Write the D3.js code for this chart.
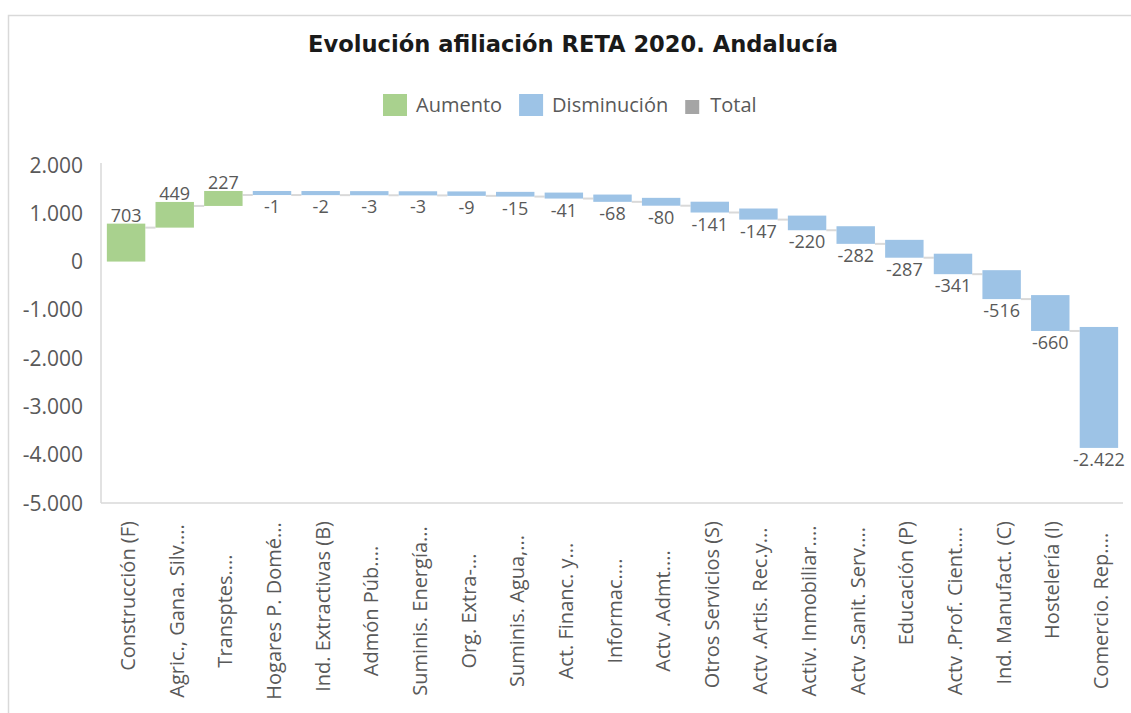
<!DOCTYPE html>
<html>
<head>
<meta charset="utf-8">
<script src="https://cdn.jsdelivr.net/npm/d3@7"></script>
<style>
  body { margin: 0; background: #fff; }
  svg text { font-family: "Open Sans", sans-serif; fill: #595959; }
</style>
</head>
<body>
<div id="chart"></div>
<script>
const categories = [
  'Construcción (F)', 'Agric., Gana. Silv....', 'Transptes....', 'Hogares P. Domé...',
  'Ind. Extractivas (B)', 'Admón Púb....', 'Suminis.  Energía...', 'Org. Extra-...',
  'Suminis. Agua,...', 'Act. Financ. y...', 'Informac....', 'Actv .Admt....',
  'Otros Servicios (S)', 'Actv .Artis. Rec.y...', 'Activ. Inmobiliar....', 'Actv .Sanit. Serv....',
  'Educación (P)', 'Actv .Prof. Cient....', 'Ind. Manufact.  (C)', 'Hostelería (I)',
  'Comercio. Rep....'
];
const changes = [703, 449, 227, -1, -2, -3, -3, -9, -15, -41, -68, -80,
  -141, -147, -220, -282, -287, -341, -516, -660, -2422];
const yTicks = [2000, 1000, 0, -1000, -2000, -3000, -4000, -5000];
const legendItems = ['Aumento', 'Disminución', 'Total'];

const W = 1131, H = 713;
const colors = { up: '#a9d18e', down: '#9dc3e6', total: '#a5a5a5', grid: '#d9d9d9' };
const fmt = d3.formatLocale({ decimal: ',', thousands: '.', grouping: [3], currency: ['', '€'], minus: '-' }).format(',d');

function buildSteps(values) {
  let run = 0;
  return values.map((v, i) => {
    let start = run;
    run += v;
    return { cat: categories[i], value: v, start, end: run };
  });
}

function initChart(sel) {
  let svg = d3.select(sel).append('svg')
    .attr('width', W).attr('height', H);
  // outer frame
  svg.append('rect')
    .attr('x', 8.5).attr('y', 15.5)
    .attr('width', W + 20).attr('height', H + 20)
    .attr('fill', 'none').attr('stroke', colors.grid).attr('stroke-width', 1.5);
  return svg;
}

function addTitle(svg) {
  svg.append('text')
    .attr('x', 308).attr('y', 52)
    .attr('textLength', 530).attr('lengthAdjust', 'spacingAndGlyphs')
    .style('font-family', '"DejaVu Sans", sans-serif')
    .style('font-weight', 700).style('font-size', '23px').style('fill', '#1a1a1a')
    .text('Evolución afiliación RETA 2020. Andalucía');
}

function addLegend(svg) {
  let g = svg.append('g').attr('class', 'legend');
  let x = 383;
  legendItems.forEach((name, i) => {
    let isTotal = name === 'Total';
    let sw = isTotal ? 14 : 24, sh = isTotal ? 14 : 22;
    g.append('rect')
      .attr('x', x).attr('y', isTotal ? 100 : 94)
      .attr('width', sw).attr('height', sh)
      .attr('fill', [colors.up, colors.down, colors.total][i]);
    x += sw + (isTotal ? 11 : 9);
    let t = g.append('text')
      .attr('x', x).attr('y', 112)
      .style('font-size', '20px')
      .text(name);
    x += t.node().getComputedTextLength() + 17;
  });
}

function addAxes(chart) {
  let { svg, x, y } = chart;
  let [x0, x1] = x.range();
  svg.append('line')
    .attr('x1', x0 - 1).attr('x2', x0 - 1)
    .attr('y1', y(2000) - 2).attr('y2', y(-5000))
    .attr('stroke', colors.grid).attr('stroke-width', 1.5);
  svg.append('line')
    .attr('x1', x0 - 1).attr('x2', x1)
    .attr('y1', y(-5000)).attr('y2', y(-5000))
    .attr('stroke', colors.grid).attr('stroke-width', 1.5);

  svg.append('g').selectAll('text')
    .data(yTicks).enter().append('text')
    .attr('x', 83).attr('y', d => y(d))
    .attr('dy', '0.36em')
    .attr('text-anchor', 'end')
    .style('font-size', '21px')
    .text(d => fmt(d));

  // category labels, rotated; Excel centres the cut-off ones
  svg.append('g').selectAll('text')
    .data(categories).enter().append('text')
    .attr('transform', d => {
      let cx = x(d) + x.bandwidth() / 2 + 2;
      let truncated = d.endsWith('...');
      return 'translate(' + cx + ',' + (truncated ? 611 : 521) + ') rotate(-90)';
    })
    .attr('text-anchor', d => d.endsWith('...') ? 'middle' : 'end')
    .attr('dy', '0.35em')
    .style('font-size', '20px')
    .text(d => d);
}

function addBars(chart) {
  let { svg, x, y, steps } = chart;
  let ext = 4;

  // connectors
  svg.append('g').selectAll('line')
    .data(steps.slice(0, -1)).enter().append('line')
    .attr('x1', d => x(d.cat) + x.bandwidth())
    .attr('x2', (d, i) => x(steps[i + 1].cat))
    .attr('y1', d => y(d.end)).attr('y2', d => y(d.end))
    .attr('stroke', colors.grid).attr('stroke-width', 2);

  svg.append('g').selectAll('rect')
    .data(steps).enter().append('rect')
    .attr('x', d => x(d.cat))
    .attr('width', x.bandwidth())
    .attr('y', d => y(Math.max(d.start, d.end)) - ext)
    .attr('height', d => Math.abs(y(d.start) - y(d.end)) + ext)
    .attr('fill', d => d.value >= 0 ? colors.up : colors.down);

  svg.append('g').selectAll('text')
    .data(steps).enter().append('text')
    .attr('x', d => x(d.cat) + x.bandwidth() / 2)
    .attr('y', d => d.value >= 0
      ? y(d.end) - ext - 2
      : y(d.end) + 18)
    .attr('text-anchor', 'middle')
    .style('font-size', '18px')
    .text(d => fmt(d.value));
}

let steps = buildSteps(changes);
let svg = initChart('#chart');
let x = d3.scaleBand().domain(categories).range([102, 1123]).paddingInner(0.21).paddingOuter(0.1);
let y = d3.scaleLinear().domain([-5000, 2000]).range([503, 165]);
let chart = { svg, x, y, steps };

addTitle(svg);
addLegend(svg);
addAxes(chart);
addBars(chart);
</script>
</body>
</html>
